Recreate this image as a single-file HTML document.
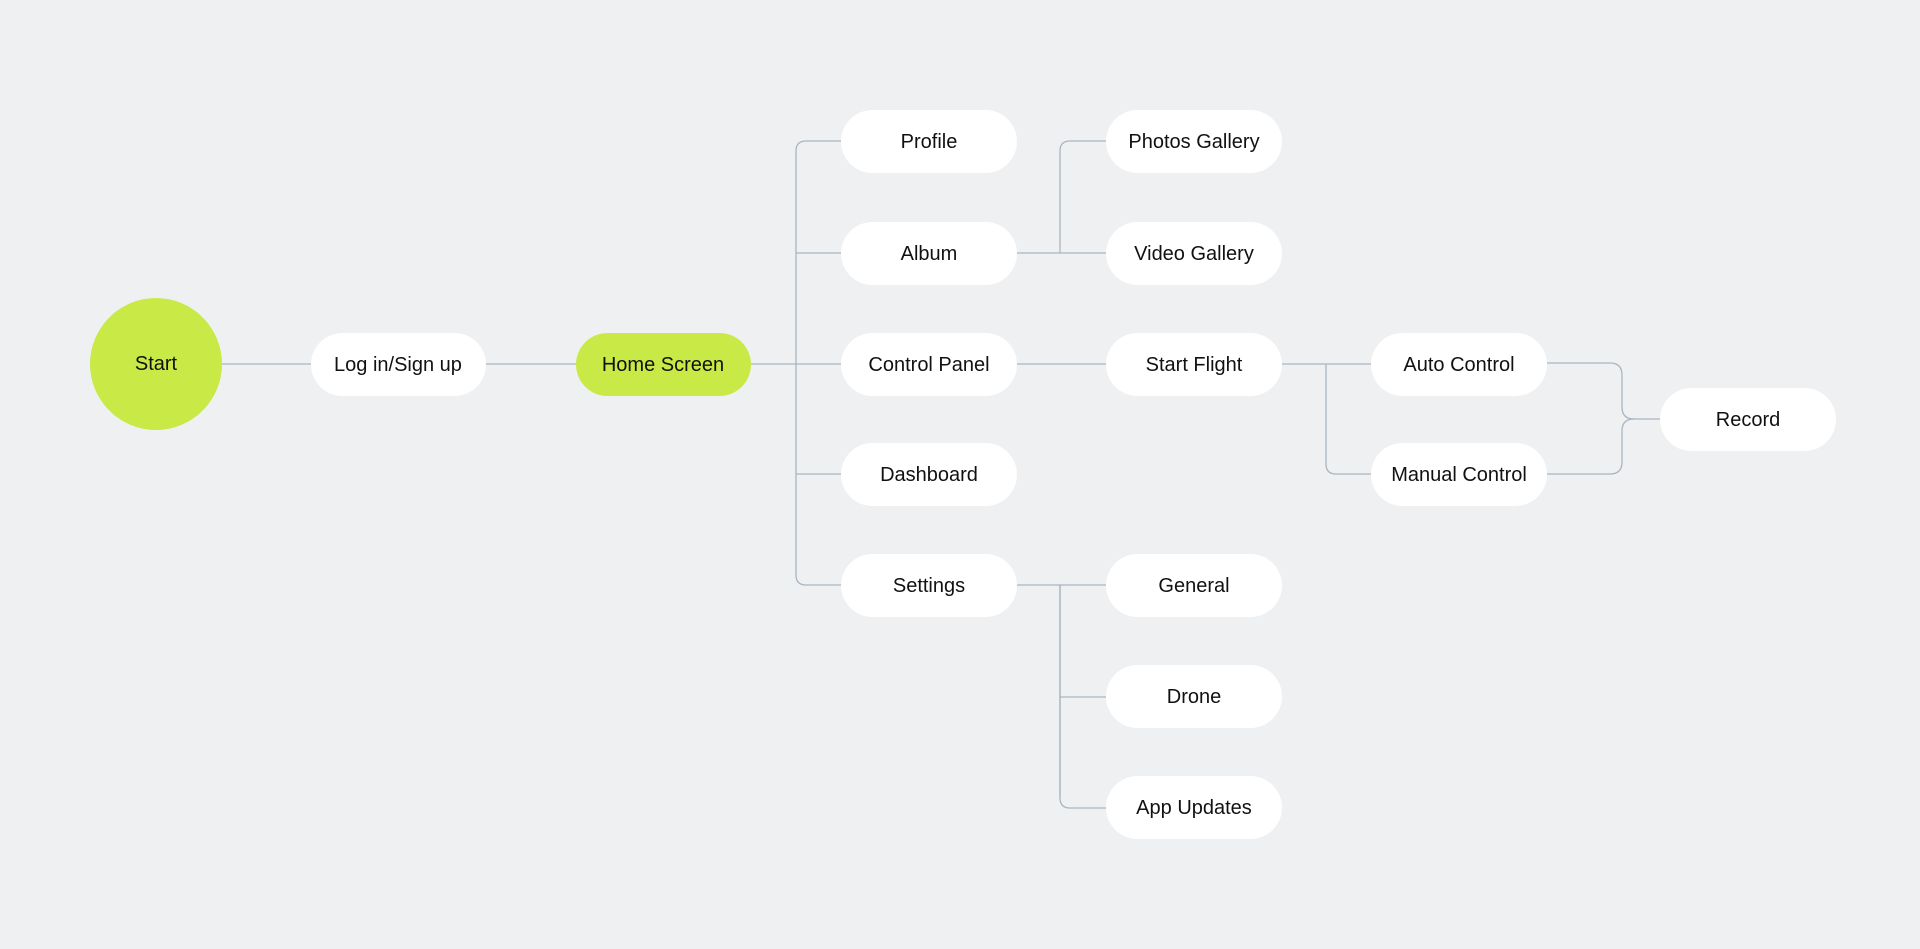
<!DOCTYPE html>
<html><head><meta charset="utf-8"><style>
html,body{margin:0;padding:0;background:#eff0f2;}
svg{display:block;}
text{font-family:"Liberation Sans",sans-serif;font-size:20px;fill:#111;text-anchor:middle;dominant-baseline:central;}
</style></head><body>
<svg width="1920" height="949" viewBox="0 0 1920 949">
<rect width="1920" height="949" fill="#eff0f2"/>
<g fill="none" stroke="#a9b5c1" stroke-width="1.3">
<line x1="221" y1="364" x2="311" y2="364"/>
<line x1="486" y1="364" x2="576" y2="364"/>
<line x1="751" y1="364" x2="841" y2="364"/>
<path d="M841 141 H806 Q796 141 796 151 V575 Q796 585 806 585 H841"/>
<line x1="796" y1="253" x2="841" y2="253"/>
<line x1="796" y1="474" x2="841" y2="474"/>
<line x1="1016" y1="253" x2="1106" y2="253"/>
<path d="M1106 141 H1070 Q1060 141 1060 151 V253"/>
<line x1="1016" y1="364" x2="1106" y2="364"/>
<line x1="1281" y1="364" x2="1371" y2="364"/>
<path d="M1326 364 V464 Q1326 474 1336 474 H1371"/>
<line x1="1016" y1="585" x2="1106" y2="585"/>
<line x1="1060" y1="585" x2="1060" y2="797"/>
<path d="M1060 585 V798 Q1060 808 1070 808 H1106"/>
<line x1="1060" y1="697" x2="1106" y2="697"/>
<path d="M1547 363 H1610 Q1622 363 1622 375 V407 Q1622 419 1634 419 H1660"/>
<path d="M1547 474 H1610 Q1622 474 1622 462 V431 Q1622 419 1634 419"/>
</g>
<circle cx="156" cy="364" r="66" fill="#c9e946"/>
<text x="156" y="364">Start</text>
<g fill="#fff">
<rect x="311" y="333" width="175" height="63" rx="31.5"/>
<rect x="841" y="110" width="176" height="63" rx="31.5"/>
<rect x="841" y="222" width="176" height="63" rx="31.5"/>
<rect x="841" y="333" width="176" height="63" rx="31.5"/>
<rect x="841" y="443" width="176" height="63" rx="31.5"/>
<rect x="841" y="554" width="176" height="63" rx="31.5"/>
<rect x="1106" y="110" width="176" height="63" rx="31.5"/>
<rect x="1106" y="222" width="176" height="63" rx="31.5"/>
<rect x="1106" y="333" width="176" height="63" rx="31.5"/>
<rect x="1106" y="554" width="176" height="63" rx="31.5"/>
<rect x="1106" y="665" width="176" height="63" rx="31.5"/>
<rect x="1106" y="776" width="176" height="63" rx="31.5"/>
<rect x="1371" y="333" width="176" height="63" rx="31.5"/>
<rect x="1371" y="443" width="176" height="63" rx="31.5"/>
<rect x="1660" y="388" width="176" height="63" rx="31.5"/>
</g>
<rect x="576" y="333" width="175" height="63" rx="31.5" fill="#c9e946"/>
<text x="398" y="365">Log in/Sign up</text>
<text x="663" y="365">Home Screen</text>
<text x="929" y="142">Profile</text>
<text x="929" y="254">Album</text>
<text x="929" y="365">Control Panel</text>
<text x="929" y="475">Dashboard</text>
<text x="929" y="586">Settings</text>
<text x="1194" y="142">Photos Gallery</text>
<text x="1194" y="254">Video Gallery</text>
<text x="1194" y="365">Start Flight</text>
<text x="1194" y="586">General</text>
<text x="1194" y="697">Drone</text>
<text x="1194" y="808">App Updates</text>
<text x="1459" y="365">Auto Control</text>
<text x="1459" y="475">Manual Control</text>
<text x="1748" y="420">Record</text>
</svg>
</body></html>
